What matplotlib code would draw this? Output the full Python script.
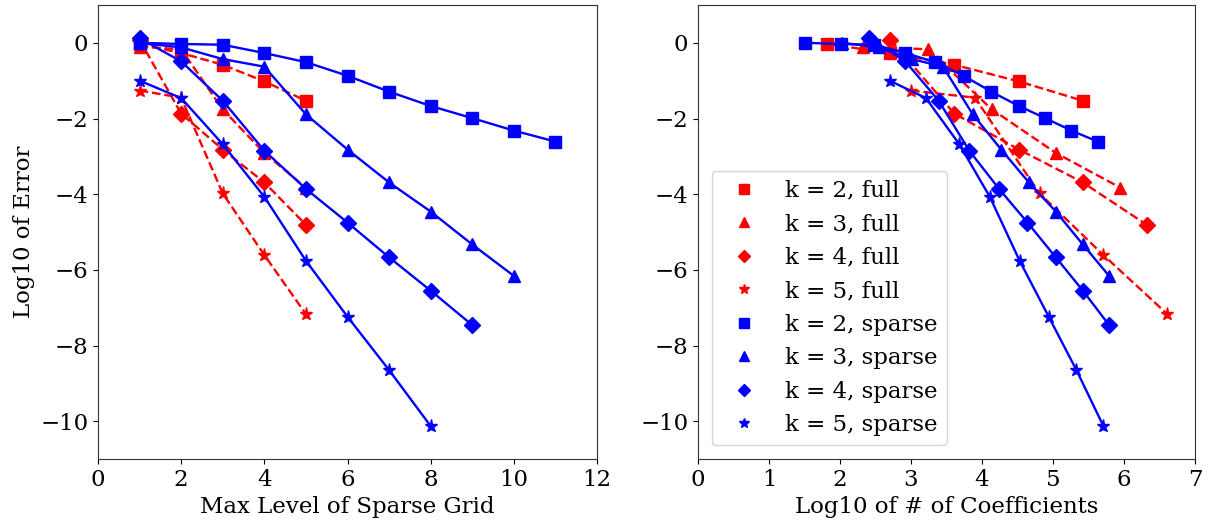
import matplotlib
matplotlib.use("Agg")
import matplotlib.pyplot as plt
from matplotlib.lines import Line2D

plt.rcParams['font.family'] = ['DejaVu Serif']
plt.rcParams['font.size'] = 16.5
plt.rcParams['mathtext.fontset'] = 'dejavuserif'

# ---- data ----
levels_full = [1, 2, 3, 4, 5]
err_full_k2 = [-0.03, -0.27, -0.58, -1.02, -1.53]
err_full_k3 = [-0.10, -0.17, -1.76, -2.91, -3.83]
err_full_k4 = [0.08, -1.87, -2.82, -3.69, -4.81]
err_full_k5 = [-1.26, -1.45, -3.98, -5.61, -7.17]

coef_full_k2 = [1.81, 2.71, 3.61, 4.52, 5.42]
coef_full_k3 = [2.33, 3.24, 4.14, 5.04, 5.95]
coef_full_k4 = [2.71, 3.61, 4.52, 5.42, 6.32]
coef_full_k5 = [3.00, 3.90, 4.81, 5.71, 6.61]

levels_sp_k2 = [1, 2, 3, 4, 5, 6, 7, 8, 9, 10, 11]
levels_sp_k3 = [1, 2, 3, 4, 5, 6, 7, 8, 9, 10]
levels_sp_k4 = [1, 2, 3, 4, 5, 6, 7, 8, 9]
levels_sp_k5 = [1, 2, 3, 4, 5, 6, 7, 8]

err_sp_k2 = [0.00, -0.03, -0.05, -0.27, -0.51, -0.87, -1.29, -1.67, -1.99, -2.32, -2.61]
err_sp_k3 = [0.00, -0.12, -0.43, -0.63, -1.89, -2.82, -3.69, -4.46, -5.33, -6.16]
err_sp_k4 = [0.12, -0.49, -1.53, -2.85, -3.86, -4.75, -5.67, -6.55, -7.46]
err_sp_k5 = [-1.00, -1.46, -2.68, -4.07, -5.76, -7.24, -8.65, -10.13]

coef_sp_k2 = [1.51, 2.02, 2.48, 2.92, 3.34, 3.74, 4.13, 4.52, 4.89, 5.26, 5.63]
coef_sp_k3 = [2.03, 2.55, 3.01, 3.45, 3.87, 4.27, 4.66, 5.04, 5.42, 5.79]
coef_sp_k4 = [2.41, 2.92, 3.39, 3.82, 4.24, 4.64, 5.04, 5.42, 5.79]
coef_sp_k5 = [2.70, 3.21, 3.68, 4.11, 4.53, 4.94, 5.33, 5.71]

labels = ["k = 2, full", "k = 3, full", "k = 4, full", "k = 5, full",
          "k = 2, sparse", "k = 3, sparse", "k = 4, sparse", "k = 5, sparse"]

full_series = [
    (levels_full, coef_full_k2, err_full_k2, 's'),
    (levels_full, coef_full_k3, err_full_k3, '^'),
    (levels_full, coef_full_k4, err_full_k4, 'D'),
    (levels_full, coef_full_k5, err_full_k5, '*'),
]
sparse_series = [
    (levels_sp_k2, coef_sp_k2, err_sp_k2, 's'),
    (levels_sp_k3, coef_sp_k3, err_sp_k3, '^'),
    (levels_sp_k4, coef_sp_k4, err_sp_k4, 'D'),
    (levels_sp_k5, coef_sp_k5, err_sp_k5, '*'),
]

msize = {'s': 8.5, '^': 8.5, 'D': 8, '*': 9.5}

fig = plt.figure(figsize=(12.1, 5.27), dpi=100)
ax1 = fig.add_axes([98/1210, 68/527, 499/1210, 454/527])
ax2 = fig.add_axes([698/1210, 68/527, 497/1210, 454/527])

for lv, cf, er, m in full_series:
    ax1.plot(lv, er, color='red', linestyle='--', linewidth=1.7, marker=m,
             markersize=msize[m], markeredgecolor='red')
    ax2.plot(cf, er, color='red', linestyle='--', linewidth=1.7, marker=m,
             markersize=msize[m], markeredgecolor='red')
for lv, cf, er, m in sparse_series:
    ax1.plot(lv, er, color='blue', linestyle='-', linewidth=1.7, marker=m,
             markersize=msize[m], markeredgecolor='blue')
    ax2.plot(cf, er, color='blue', linestyle='-', linewidth=1.7, marker=m,
             markersize=msize[m], markeredgecolor='blue')

ax1.set_xlim(0, 12)
ax1.set_ylim(-11, 1)
ax1.set_xticks([0, 2, 4, 6, 8, 10, 12])
ax1.set_yticks([-10, -8, -6, -4, -2, 0])
ax1.set_xlabel("Max Level of Sparse Grid")
ax1.set_ylabel("Log10 of Error")

ax2.set_xlim(0, 7)
ax2.set_ylim(-11, 1)
ax2.set_xticks([0, 1, 2, 3, 4, 5, 6, 7])
ax2.set_yticks([-10, -8, -6, -4, -2, 0])
ax2.set_xlabel("Log10 of # of Coefficients")

handles = []
for (lv, cf, er, m) in full_series:
    handles.append(Line2D([], [], color='red', linestyle='none', marker=m,
                          markersize=msize[m] * 0.8))
for (lv, cf, er, m) in sparse_series:
    handles.append(Line2D([], [], color='blue', linestyle='none', marker=m,
                          markersize=msize[m] * 0.8))
ax2.legend(handles, labels, loc='lower left', fontsize=16.5, labelspacing=0.5,
           borderaxespad=0.6)

for ax in (ax1, ax2):
    for sp in ax.spines.values():
        sp.set_color('#333333')

fig.savefig("out.png", dpi=100)
